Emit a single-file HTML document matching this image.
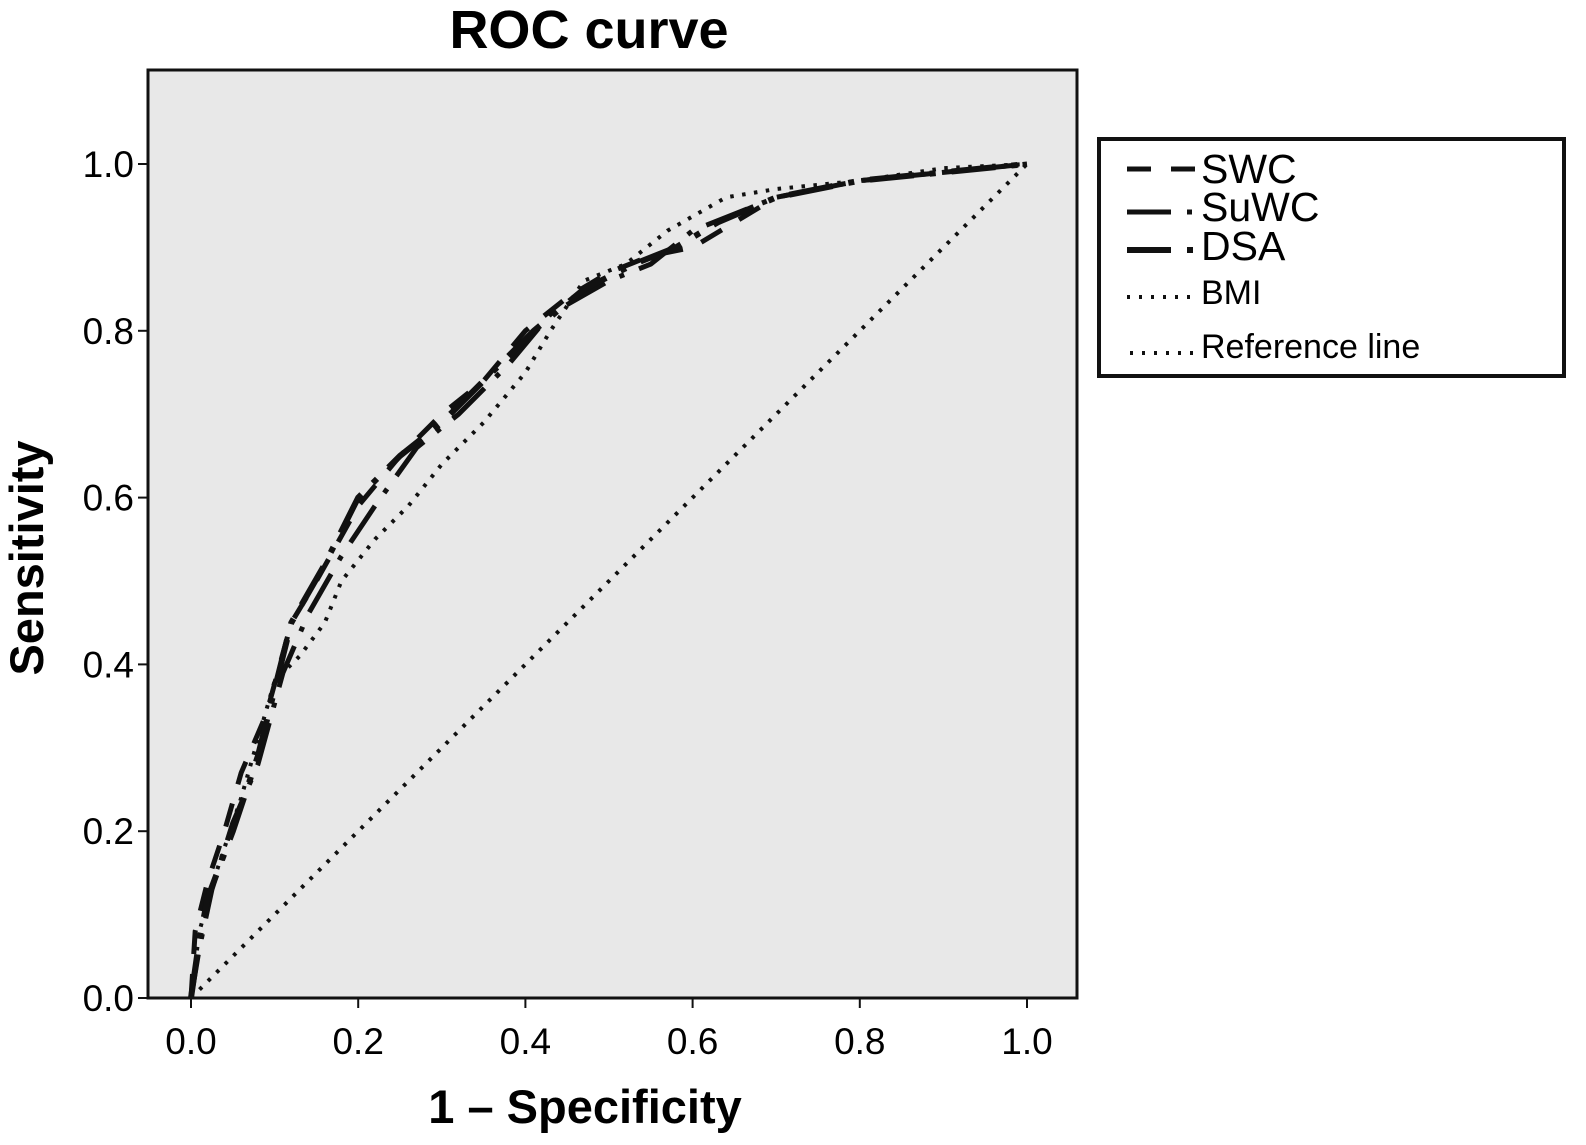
<!DOCTYPE html>
<html><head><meta charset="utf-8"><style>
body{margin:0;background:#fff;}
svg{display:block;font-family:"Liberation Sans",Arial,sans-serif;}
</style></head><body>
<svg id="chart" width="1586" height="1145">
<rect x="148" y="70" width="929" height="928" fill="#e8e8e8" stroke="#111" stroke-width="3"/>
<g id="curves"></g><g id="axes"></g>
<text x="589" y="48" font-size="54" font-weight="bold" text-anchor="middle">ROC curve</text>
<text x="585" y="1123" font-size="47" font-weight="bold" text-anchor="middle">1 – Specificity</text>
<text transform="translate(43,558) rotate(-90)" font-size="47" font-weight="bold" text-anchor="middle">Sensitivity</text>
<g>
<rect x="1099" y="139" width="465" height="237" fill="#fff" stroke="#111" stroke-width="4"/>
<line x1="1127" y1="169" x2="1195" y2="169" stroke="#111" stroke-width="5" stroke-dasharray="24,20"/>
<text x="1201" y="183" font-size="41">SWC</text>
<line x1="1127" y1="212" x2="1195" y2="212" stroke="#111" stroke-width="5" stroke-dasharray="44,16,5,50"/>
<text x="1201" y="221" font-size="41">SuWC</text>
<line x1="1127" y1="250" x2="1195" y2="250" stroke="#111" stroke-width="6" stroke-dasharray="44,16,6,50"/>
<text x="1201" y="260" font-size="41">DSA</text>
<line x1="1127" y1="297" x2="1195" y2="297" stroke="#111" stroke-width="4" stroke-dasharray="3,9"/>
<text x="1201" y="304" font-size="34">BMI</text>
<line x1="1130" y1="353" x2="1195" y2="353" stroke="#111" stroke-width="4" stroke-dasharray="3,9"/>
<text x="1201" y="358" font-size="34">Reference line</text>
</g>
</svg>
<script>
const xTicks=[0,0.2,0.4,0.6,0.8,1.0];
const yTicks=[0,0.2,0.4,0.6,0.8,1.0];
const swcX=[0,0.005,0.02,0.04,0.06,0.09,0.12,0.15,0.2,0.25,0.3,0.35,0.4,0.45,0.5,0.55,0.6,0.65,0.7,0.8,0.9,1];
const swcY=[0,0.08,0.14,0.2,0.27,0.34,0.45,0.5,0.59,0.65,0.7,0.74,0.8,0.84,0.87,0.89,0.9,0.93,0.96,0.98,0.99,1];
const suwcX=[0,0.01,0.025,0.05,0.08,0.11,0.14,0.18,0.22,0.27,0.32,0.38,0.43,0.5,0.55,0.6,0.65,0.7,0.8,0.9,1];
const suwcY=[0,0.06,0.13,0.21,0.28,0.39,0.46,0.53,0.59,0.66,0.7,0.76,0.82,0.86,0.88,0.92,0.94,0.96,0.98,0.99,1];
const dsaX=[0,0.01,0.02,0.05,0.08,0.12,0.16,0.2,0.25,0.3,0.36,0.41,0.47,0.53,0.58,0.63,0.7,0.8,1];
const dsaY=[0,0.07,0.12,0.2,0.29,0.45,0.52,0.6,0.65,0.69,0.75,0.8,0.85,0.88,0.9,0.93,0.96,0.98,1];
const bmiX=[0,0.01,0.03,0.06,0.1,0.13,0.16,0.18,0.22,0.26,0.3,0.35,0.4,0.43,0.47,0.52,0.57,0.64,0.7,0.8,0.9,1];
const bmiY=[0,0.08,0.15,0.24,0.38,0.41,0.45,0.5,0.55,0.59,0.64,0.69,0.75,0.8,0.86,0.88,0.92,0.96,0.97,0.98,0.995,1];
const refX=[0,1], refY=[0,1];
const NS="http://www.w3.org/2000/svg";
const sx=v=>191+v*836, sy=v=>998-v*834;
const axes=document.getElementById('axes'), curves=document.getElementById('curves');
xTicks.forEach(t=>{
  const l=document.createElementNS(NS,'line');
  l.setAttribute('x1',sx(t));l.setAttribute('x2',sx(t));l.setAttribute('y1',998);l.setAttribute('y2',1008);
  l.setAttribute('stroke','#111');l.setAttribute('stroke-width',2);
  
  
  axes.appendChild(l);
  const tx=document.createElementNS(NS,'text');
  tx.setAttribute('x',sx(t));tx.setAttribute('y',1054);tx.setAttribute('font-size',37);tx.setAttribute('text-anchor','middle');
  tx.textContent=t.toFixed(1);
  
  
  axes.appendChild(tx);
});
yTicks.forEach(t=>{
  const l=document.createElementNS(NS,'line');
  l.setAttribute('x1',138);l.setAttribute('x2',148);l.setAttribute('y1',sy(t));l.setAttribute('y2',sy(t));
  l.setAttribute('stroke','#111');l.setAttribute('stroke-width',2);
  
  
  axes.appendChild(l);
  const tx=document.createElementNS(NS,'text');
  tx.setAttribute('x',134);tx.setAttribute('y',sy(t)+13);tx.setAttribute('font-size',37);tx.setAttribute('text-anchor','end');
  tx.textContent=t.toFixed(1);
  
  
  axes.appendChild(tx);
});
function draw(xs,ys,dash,w,name){
  const p=document.createElementNS(NS,'polyline');
  p.setAttribute('points',xs.map((x,i)=>sx(x)+','+sy(ys[i])).join(' '));
  p.setAttribute('fill','none');p.setAttribute('stroke','#111');p.setAttribute('stroke-width',w);
  p.setAttribute('stroke-dasharray',dash);
  
  
  curves.appendChild(p);
}
draw(refX,refY,'3.5,8.5',4,'reference-line');
draw(bmiX,bmiY,'3.5,8.5',4,'bmi-curve');
draw(swcX,swcY,'24,20',5,'swc-curve');
draw(suwcX,suwcY,'44,16,5,16',5,'suwc-curve');
draw(dsaX,dsaY,'44,16,6,16',6,'dsa-curve');
</script>
</body></html>
